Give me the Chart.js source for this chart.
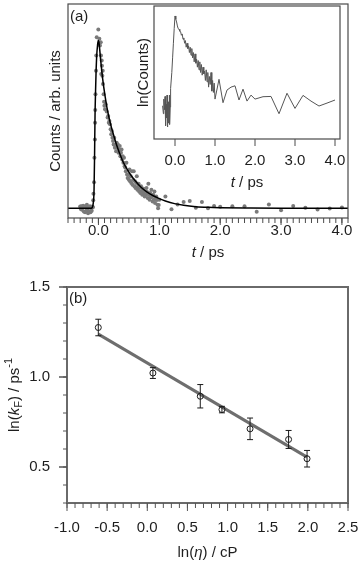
<!DOCTYPE html>
<html><head><meta charset="utf-8">
<script src="https://cdn.jsdelivr.net/npm/chart.js@4.4.1/dist/chart.umd.min.js"></script>
<style>
html,body{margin:0;padding:0;background:#fff;width:359px;height:563px;overflow:hidden}
canvas{position:absolute;left:0}
#cA{top:0}#cI{top:0}#cB{top:270px}
</style></head><body>
<canvas id="cA" width="359" height="280"></canvas>
<canvas id="cI" width="359" height="280"></canvas>
<canvas id="cB" width="359" height="293"></canvas>
<script>
// ---------- Panel (a): main decay ----------
const aDotT = [-0.30,-0.29,-0.28,-0.27,-0.26,-0.25,-0.24,-0.23,-0.22,-0.21,-0.20,-0.19,-0.18,-0.17,-0.16,-0.15,-0.14,-0.13,-0.12,-0.11,-0.10,-0.09,
 -0.086,-0.082,-0.072,-0.066,-0.058,-0.055,-0.052,-0.049,-0.040,-0.036,-0.028,-0.002,
 0.015,0.025,0.038,0.042,0.046,0.054,0.058,0.064,0.071,0.075,0.085,0.092,0.098,0.108,0.120,0.136,0.150,
 0.16,0.17,0.18,0.19,0.20,0.21,0.22,0.23,0.24,0.25,0.26,0.27,0.28,0.29,0.30,0.31,0.32,0.33,0.34,0.35,0.36,0.37,0.38,0.39,0.40,
 0.41,0.42,0.43,0.44,0.45,0.46,0.47,0.48,0.49,0.50,0.51,0.52,0.53,0.54,0.55,0.56,0.57,0.58,0.59,0.60,
 0.61,0.62,0.63,0.64,0.65,0.66,0.67,0.68,0.69,0.70,0.71,0.72,0.73,0.74,0.75,0.76,0.77,0.78,0.79,0.80,
 0.81,0.82,0.83,0.84,0.85,0.86,0.87,0.88,0.89,0.90,0.91,0.92,0.93,0.94,0.95,0.96,0.97,0.98,0.99,1.00,
 1.1,1.2,1.3,1.4,1.5,1.6,1.7,1.8,1.9,2.0,2.2,2.4,2.6,2.8,3.0,3.2,3.4,3.6,3.8,4.0];
const aDotCounts = [0.010,-0.005,0.012,-0.010,0.005,0.015,-0.020,0.008,-0.025,0.010,-0.015,0.020,-0.010,-0.030,0.005,-0.020,0.012,-0.025,0.000,-0.015,0.010,0.005,
 0.047,0.086,0.155,0.300,0.410,0.510,0.586,0.680,0.820,0.910,1.020,1.066,
 1.010,0.970,0.990,0.910,0.800,0.880,0.850,0.790,0.820,0.740,0.680,0.635,0.610,0.590,0.620,0.576,0.540,
 0.55,0.51,0.52,0.50,0.47,0.44,0.46,0.42,0.40,0.38,0.42,0.36,0.37,0.34,0.39,0.36,0.38,0.33,0.35,0.37,0.31,0.33,0.35,0.29,0.31,
 0.27,0.30,0.25,0.243,0.22,0.27,0.20,0.18,0.20,0.17,0.23,0.16,0.19,0.15,0.22,0.14,0.17,0.22,0.13,0.16,
 0.12,0.15,0.19,0.11,0.13,0.145,0.10,0.12,0.09,0.13,0.10,0.08,0.11,0.116,0.09,0.07,0.10,0.08,0.12,0.097,
 0.06,0.145,0.08,0.05,0.09,0.065,0.11,0.068,0.04,0.08,0.05,0.10,0.03,0.06,0.07,0.048,0.02,0.00,0.019,0.05,
 0.07,-0.006,0.022,0.037,0.043,0.002,0.037,0.0,0.013,0.008,0.012,0.012,-0.022,0.022,-0.012,0.013,0.002,-0.008,-0.002,0.004];
const aFitT = [-0.5,-0.12,-0.1,-0.085,-0.072,-0.064,-0.056,-0.047,-0.039,-0.028,-0.015,-0.003,0.008,0.02,0.04,0.07,0.1,0.14,0.2,0.25,0.3,0.35,0.4,0.5,0.6,0.7,0.8,0.9,1.0,1.1,1.25,1.4,1.6,1.8,2.0,2.5,3.0,4.1];
const aFitCounts = [0,0,0.005,0.03,0.11,0.3,0.55,0.7,0.81,0.91,0.97,1.0,0.99,0.95,0.87,0.77,0.69,0.6,0.5,0.435,0.375,0.325,0.28,0.215,0.165,0.125,0.096,0.074,0.057,0.043,0.027,0.017,0.009,0.005,0.003,0.001,0,0];
const aTickValues = [0,1,2,3,4];

// ---------- Inset: ln(Counts) ----------
const insetT = [-0.31,-0.29,-0.28,-0.26,-0.25,-0.24,-0.23,-0.22,-0.21,-0.20,-0.19,-0.18,-0.17,-0.16,-0.15,-0.14,-0.13,-0.12,-0.11,-0.08,-0.06,-0.04,-0.02,0.00,
 0.02,0.04,0.06,0.08,0.10,0.12,0.14,0.16,0.18,0.20,0.22,0.24,0.26,0.28,0.30,0.32,0.34,0.36,0.38,0.40,0.42,0.44,0.46,0.48,0.50,
 0.52,0.54,0.56,0.58,0.60,0.62,0.64,0.66,0.68,0.70,0.72,0.74,0.76,0.78,0.80,0.82,0.84,0.86,0.88,0.90,0.92,0.94,0.96,0.98,1.00,
 1.1,1.2,1.3,1.4,1.5,1.6,1.7,1.8,1.9,2.0,2.2,2.4,2.6,2.8,3.0,3.2,3.4,3.6,3.8,4.0];
const insetLnCounts = [2.5,1.9,3.0,2.2,3.2,1.5,1.0,2.6,1.6,3.3,0.9,2.2,1.2,2.8,1.5,3.3,1.1,2.4,3.8,5.0,6.1,7.2,8.3,9.25,
 9.0,8.8,8.5,8.3,8.25,8.1,8.07,7.8,7.9,7.5,7.6,7.2,7.4,6.9,7.2,6.8,7.0,6.5,6.9,6.3,6.8,6.1,6.5,5.8,6.4,
 5.7,6.0,5.4,5.9,5.2,5.8,5.0,5.6,4.8,5.4,4.9,5.1,4.4,5.2,4.3,5.0,3.9,4.7,4.1,5.0,3.6,4.4,3.5,4.2,3.0,
 4.49,2.73,3.68,3.9,4.0,2.93,3.75,2.85,3.3,3.0,3.18,3.2,1.9,3.44,2.3,3.28,2.85,2.48,2.7,2.93];
const insetTickValues = [0,1,2,3,4];

// ---------- Panel (b): ln(kF) vs ln(eta) ----------
const bLnEta = [-0.61,0.07,0.66,0.93,1.28,1.76,1.99];
const bLnK   = [1.275,1.022,0.893,0.819,0.712,0.653,0.546];
const bErr   = [0.046,0.030,0.065,0.018,0.060,0.050,0.046];
const bFitX  = [-0.61,1.99];
const bFitY  = [1.238,0.555];
const bXTickValues = [-1.0,-0.5,0.0,0.5,1.0,1.5,2.0,2.5];
const bYTickValues = [0.5,1.0,1.5];

// ---------- helpers ----------
const FONT = '"Liberation Sans", Arial, Helvetica, sans-serif';
const TXT = '#1e1e1e';
Chart.defaults.font.family = FONT;
Chart.defaults.font.size = 15;
Chart.defaults.color = TXT;

function steps(a, b, s){ const out=[]; const n=Math.round((b-a)/s); for(let i=0;i<=n;i++) out.push(Math.round((a+i*s)*1000)/1000); return out; }
function fontFor(p){ const s=(p.sub||p.sup)?11:15; return (p.i?'italic ':'')+s+'px '+FONT; }
function drawRich(ctx, parts, x, y, rot, align){
  ctx.save(); ctx.translate(x,y); if(rot) ctx.rotate(rot);
  ctx.textBaseline='middle'; ctx.textAlign='left'; ctx.fillStyle=TXT;
  let total=0; parts.forEach(p=>{ctx.font=fontFor(p); total+=ctx.measureText(p.t).width;});
  let cx = align==='left'?0:-total/2;
  parts.forEach(p=>{ ctx.font=fontFor(p); const dy=p.sub?4:(p.sup?-6:0); ctx.fillText(p.t,cx,dy); cx+=ctx.measureText(p.t).width; });
  ctx.restore();
}
function makeDecor(cfg){
  return { id:'decor_'+cfg.name, afterDraw(chart){
    const ctx=chart.ctx, a=chart.chartArea; ctx.save();
    ctx.strokeStyle=cfg.frameColor; ctx.lineWidth=cfg.frameWidth;
    ctx.strokeRect(a.left,a.top,a.right-a.left,a.bottom-a.top);
    cfg.ticks.forEach(t=>{ const sc=chart.scales[t.axis]; ctx.strokeStyle=t.color; ctx.lineWidth=t.width; ctx.beginPath();
      t.values.forEach(v=>{ const p=sc.getPixelForValue(v);
        if(t.axis==='x'){ ctx.moveTo(p,a.bottom); ctx.lineTo(p,a.bottom+t.len); } else { ctx.moveTo(a.left,p); ctx.lineTo(a.left-t.len,p); } });
      ctx.stroke(); });
    cfg.texts.forEach(t=>{
      const x = t.ax==='center' ? (a.left+a.right)/2+(t.dx||0) : (t.ax==='left' ? a.left+t.dx : t.dx);
      const y = t.ay==='middle' ? (a.top+a.bottom)/2+(t.dy||0) : (t.ay==='top' ? a.top+t.dy : a.bottom+t.dy);
      drawRich(ctx,t.parts,x,y,t.rot||0,t.align||'center'); });
    ctx.restore(); } };
}
const pts = (xs,ys)=>xs.map((x,i)=>({x:x,y:ys[i]}));
const fixTicks = vals => s => { s.ticks = vals.map(v=>({value:v})); };
const base = { responsive:false, animation:false, devicePixelRatio:1, plugins:{legend:{display:false},tooltip:{enabled:false}} };

// ---------- Chart A ----------
new Chart(document.getElementById('cA'), {
  type:'scatter',
  data:{ datasets:[
    { data:pts(aFitT,aFitCounts), showLine:true, borderColor:'#000', borderWidth:1.5, pointRadius:0, cubicInterpolationMode:'monotone', fill:false },
    { data:pts(aDotT,aDotCounts), pointRadius:2, backgroundColor:'#7a7a7a', borderWidth:0 }
  ]},
  options:Object.assign({}, base, {
    layout:{padding:{left:44,right:11,top:1,bottom:0}},
    scales:{
      x:{ type:'linear', min:-0.5, max:4.1, afterBuildTicks:fixTicks(aTickValues), afterFit:s=>{s.height=62;},
          grid:{display:true,drawOnChartArea:false,drawTicks:true,tickLength:4,tickColor:'rgba(0,0,0,0)'}, border:{display:false},
          ticks:{padding:0,autoSkip:false,maxRotation:0,callback:v=>Number(v).toFixed(1)} },
      y:{ type:'linear', min:-0.0588, max:1.2176, afterFit:s=>{s.width=24;}, grid:{display:false}, border:{display:false}, ticks:{display:false},
          title:{display:true,text:'Counts / arb. units',padding:{top:2.5,bottom:0}} }
    }
  }),
  plugins:[makeDecor({name:'a', frameColor:'#4a4a4a', frameWidth:1.2,
    ticks:[{axis:'x',values:steps(-0.5,4.1,0.1),len:5,color:'#4a4a4a',width:1},{axis:'x',values:aTickValues,len:7,color:'#4a4a4a',width:1}],
    texts:[{parts:[{t:'t',i:true},{t:' / ps'}],ax:'center',ay:'bottom',dy:35},
           {parts:[{t:'(a)'}],ax:'left',dx:2,ay:'top',dy:13,align:'left'}]})]
});

// ---------- Inset ----------
new Chart(document.getElementById('cI'), {
  type:'scatter',
  data:{ datasets:[ { data:pts(insetT,insetLnCounts), showLine:true, borderColor:'#555', borderWidth:1, pointRadius:0, fill:false } ]},
  options:Object.assign({}, base, {
    layout:{padding:{left:132,right:19,top:6,bottom:0}},
    scales:{
      x:{ type:'linear', min:-0.525, max:4.125, afterBuildTicks:fixTicks(insetTickValues), afterFit:s=>{s.height=141;},
          grid:{display:true,drawOnChartArea:false,drawTicks:true,tickLength:13,tickColor:'rgba(0,0,0,0)'}, border:{display:false},
          ticks:{padding:0,autoSkip:false,maxRotation:0,callback:v=>Number(v).toFixed(1)} },
      y:{ type:'linear', min:0, max:10, afterFit:s=>{s.width=22;}, grid:{display:false}, border:{display:false}, ticks:{display:false},
          title:{display:true,text:'ln(Counts)',padding:{top:3,bottom:0}} }
    }
  }),
  plugins:[makeDecor({name:'i', frameColor:'#4a4a4a', frameWidth:1.2,
    ticks:[{axis:'x',values:insetTickValues,len:7,color:'#4a4a4a',width:1}],
    texts:[{parts:[{t:'t',i:true},{t:' / ps'}],ax:'center',ay:'bottom',dy:44}]})]
});

// ---------- Chart B ----------
const errorBars = { id:'errorBars', afterDatasetsDraw(chart){
  const ctx=chart.ctx, xs=chart.scales.x, ys=chart.scales.y; ctx.save(); ctx.strokeStyle='#1a1a1a'; ctx.lineWidth=1; ctx.beginPath();
  bLnEta.forEach((x,i)=>{ const px=xs.getPixelForValue(x), y1=ys.getPixelForValue(bLnK[i]+bErr[i]), y2=ys.getPixelForValue(bLnK[i]-bErr[i]);
    ctx.moveTo(px,y1); ctx.lineTo(px,y2); ctx.moveTo(px-3,y1); ctx.lineTo(px+3,y1); ctx.moveTo(px-3,y2); ctx.lineTo(px+3,y2); });
  ctx.stroke(); ctx.restore(); } };
new Chart(document.getElementById('cB'), {
  type:'scatter',
  data:{ datasets:[
    { data:pts(bLnEta,bLnK), pointRadius:3, pointStyle:'circle', backgroundColor:'rgba(0,0,0,0)', borderColor:'#1a1a1a', borderWidth:1 },
    { data:pts(bFitX,bFitY), showLine:true, borderColor:'#6e6e6e', borderWidth:3, pointRadius:0, fill:false }
  ]},
  options:Object.assign({}, base, {
    layout:{padding:{left:0,right:11,top:17,bottom:0}},
    scales:{
      x:{ type:'linear', min:-1, max:2.5, afterBuildTicks:fixTicks(bXTickValues), afterFit:s=>{s.height=60;},
          grid:{display:true,drawOnChartArea:false,drawTicks:true,tickLength:16,tickColor:'rgba(0,0,0,0)'}, border:{display:false},
          ticks:{padding:0,autoSkip:false,maxRotation:0,callback:v=>Number(v).toFixed(1)} },
      y:{ type:'linear', min:0.3, max:1.5, afterBuildTicks:fixTicks(bYTickValues), afterFit:s=>{s.width=67;},
          grid:{display:true,drawOnChartArea:false,drawTicks:true,tickLength:17,tickColor:'rgba(0,0,0,0)'}, border:{display:false},
          ticks:{padding:0,autoSkip:false,callback:v=>Number(v).toFixed(1)} }
    }
  }),
  plugins:[makeDecor({name:'b', frameColor:'#6a6a6a', frameWidth:2,
    ticks:[{axis:'x',values:steps(-1,2.5,0.1),len:5,color:'#555',width:1},{axis:'x',values:bXTickValues,len:8,color:'#555',width:1},
           {axis:'y',values:steps(0.3,1.5,0.1),len:4,color:'#555',width:1},{axis:'y',values:bYTickValues,len:8,color:'#555',width:1.5}],
    texts:[{parts:[{t:'ln('},{t:'η',i:true},{t:') / cP'}],ax:'center',ay:'bottom',dy:50},
           {parts:[{t:'ln('},{t:'k',i:true},{t:'F',sub:true},{t:') / ps'},{t:'-1',sup:true}],ax:'abs',dx:15,ay:'middle',dy:0,rot:-Math.PI/2},
           {parts:[{t:'(b)'}],ax:'left',dx:2,ay:'top',dy:11.5,align:'left'}]}), errorBars]
});
</script></body></html>
